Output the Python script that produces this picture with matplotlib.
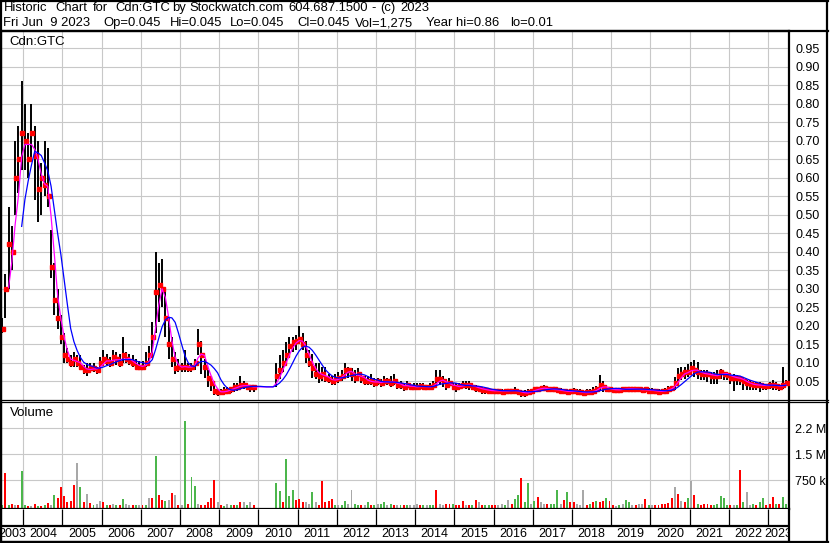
import numpy as np
import pandas as pd
import matplotlib
matplotlib.use("Agg")
import matplotlib.pyplot as plt
from matplotlib.lines import Line2D

plt.rcParams['font.family'] = ['Liberation Sans', 'DejaVu Sans']

nan = np.nan

# monthly bars, Jun 2003 .. Jun 2023
months = pd.period_range('2003-06', '2023-06', freq='M')

high = [
    0.22, 0.34, 0.52, 0.47, 0.70, 0.74, 0.86,                                   # 2003
    0.80, 0.72, 0.80, 0.74, 0.70, 0.64, 0.70, 0.68, 0.46, 0.37, 0.30, 0.23,     # 2004
    0.18, 0.14, 0.12, 0.13, 0.12, 0.12, 0.095, 0.10, 0.10, 0.10, 0.09, 0.115,   # 2005
    0.135, 0.125, 0.115, 0.135, 0.13, 0.125, 0.17, 0.13, 0.125, 0.12, 0.11, 0.105,
    0.105, 0.13, 0.145, 0.21, 0.40, 0.37, 0.38, 0.30, 0.22, 0.17, 0.13, 0.11,   # 2007
    0.10, 0.135, 0.10, 0.10, 0.11, 0.19, 0.16, 0.11, 0.08, 0.06, 0.04, 0.03,    # 2008
    0.03, 0.035, 0.035, 0.035, 0.045, 0.045, 0.065, 0.05, 0.045, 0.04, 0.04, nan,
    nan, nan, nan, nan, nan, 0.10, 0.12, 0.135, 0.155, 0.17, 0.17, 0.175,       # 2010
    0.20, 0.18, 0.16, 0.135, 0.125, 0.10, 0.10, 0.09, 0.09, 0.07, 0.065, 0.07,  # 2011
    0.075, 0.08, 0.10, 0.09, 0.085, 0.08, 0.085, 0.075, 0.065, 0.065, 0.07, 0.06,
    0.06, 0.055, 0.065, 0.06, 0.065, 0.07, 0.055, 0.05, 0.045, 0.05, 0.045, 0.045,
    0.045, 0.045, 0.045, 0.04, 0.045, 0.05, 0.08, 0.08, 0.065, 0.055, 0.06, 0.045,
    0.045, 0.045, 0.05, 0.05, 0.05, 0.045, 0.04, 0.035, 0.03, 0.03, 0.03, 0.03,
    0.03, 0.03, 0.028, 0.03, 0.03, 0.03, 0.035, 0.03, 0.026, 0.026, 0.03, 0.03,
    0.033, 0.035, 0.036, 0.039, 0.035, 0.035, 0.035, 0.033, 0.033, 0.03, 0.03, 0.03,
    0.033, 0.03, 0.03, 0.027, 0.03, 0.03, 0.035, 0.037, 0.066, 0.052, 0.039, 0.035,
    0.033, 0.033, 0.03, 0.035, 0.035, 0.035, 0.033, 0.033, 0.033, 0.03, 0.035, 0.033,
    0.033, 0.03, 0.03, 0.03, 0.033, 0.037, 0.035, 0.062, 0.085, 0.09, 0.09, 0.098,
    0.102, 0.107, 0.102, 0.08, 0.08, 0.08, 0.075, 0.075, 0.08, 0.084, 0.075, 0.075,
    0.07, 0.07, 0.066, 0.062, 0.062, 0.053, 0.053, 0.048, 0.048, 0.048, 0.044, 0.044,
    0.048, 0.053, 0.048, 0.044, 0.09, 0.053,                                     # 2023
]

low = [
    0.18, 0.22, 0.30, 0.35, 0.50, 0.56, 0.62,
    0.62, 0.60, 0.65, 0.54, 0.48, 0.50, 0.55, 0.52, 0.33, 0.23, 0.19, 0.15,
    0.10, 0.10, 0.09, 0.09, 0.09, 0.08, 0.07, 0.065, 0.075, 0.075, 0.07, 0.085,
    0.10, 0.095, 0.09, 0.10, 0.095, 0.09, 0.10, 0.10, 0.095, 0.09, 0.085, 0.085,
    0.085, 0.09, 0.10, 0.12, 0.18, 0.21, 0.25, 0.17, 0.11, 0.09, 0.07, 0.075,
    0.075, 0.075, 0.075, 0.075, 0.08, 0.12, 0.07, 0.06, 0.035, 0.025, 0.012, 0.01,
    0.012, 0.012, 0.018, 0.018, 0.022, 0.025, 0.03, 0.03, 0.028, 0.022, 0.022, nan,
    nan, nan, nan, nan, nan, 0.035, 0.055, 0.075, 0.095, 0.12, 0.13, 0.135,
    0.15, 0.135, 0.10, 0.09, 0.06, 0.055, 0.045, 0.05, 0.048, 0.045, 0.04, 0.04,
    0.045, 0.05, 0.055, 0.06, 0.05, 0.045, 0.05, 0.045, 0.04, 0.04, 0.04, 0.035,
    0.04, 0.035, 0.04, 0.04, 0.035, 0.04, 0.03, 0.03, 0.025, 0.03, 0.026, 0.026,
    0.026, 0.03, 0.026, 0.026, 0.03, 0.03, 0.04, 0.04, 0.035, 0.026, 0.035, 0.026,
    0.022, 0.026, 0.035, 0.03, 0.026, 0.026, 0.022, 0.022, 0.017, 0.017, 0.017, 0.015,
    0.017, 0.015, 0.015, 0.017, 0.017, 0.015, 0.017, 0.012, 0.008, 0.008, 0.012, 0.017,
    0.021, 0.021, 0.026, 0.026, 0.021, 0.021, 0.021, 0.021, 0.018, 0.018, 0.016, 0.018,
    0.016, 0.016, 0.012, 0.012, 0.016, 0.015, 0.016, 0.021, 0.025, 0.021, 0.021, 0.021,
    0.021, 0.021, 0.021, 0.024, 0.024, 0.024, 0.024, 0.021, 0.021, 0.018, 0.021, 0.016,
    0.016, 0.016, 0.015, 0.016, 0.016, 0.021, 0.026, 0.026, 0.044, 0.053, 0.057, 0.062,
    0.066, 0.062, 0.057, 0.053, 0.053, 0.048, 0.044, 0.044, 0.044, 0.057, 0.053, 0.053,
    0.044, 0.024, 0.039, 0.039, 0.026, 0.026, 0.026, 0.026, 0.026, 0.021, 0.026, 0.026,
    0.028, 0.026, 0.026, 0.024, 0.03, 0.039,
]

close = [
    0.19, 0.30, 0.42, 0.40, 0.60, 0.65, 0.72,
    0.70, 0.65, 0.72, 0.66, 0.57, 0.60, 0.58, 0.55, 0.36, 0.27, 0.22, 0.17,
    0.12, 0.11, 0.10, 0.11, 0.10, 0.09, 0.08, 0.08, 0.085, 0.085, 0.08, 0.10,
    0.11, 0.105, 0.10, 0.115, 0.11, 0.10, 0.12, 0.11, 0.105, 0.10, 0.09, 0.09,
    0.09, 0.10, 0.12, 0.17, 0.29, 0.31, 0.30, 0.22, 0.15, 0.11, 0.085, 0.09,
    0.09, 0.09, 0.085, 0.09, 0.10, 0.15, 0.12, 0.09, 0.06, 0.045, 0.025, 0.02,
    0.02, 0.025, 0.025, 0.03, 0.035, 0.035, 0.04, 0.04, 0.035, 0.035, 0.035, 0.035,
    0.035, 0.035, 0.035, 0.035, 0.035, 0.065, 0.08, 0.10, 0.12, 0.145, 0.155, 0.16,
    0.165, 0.15, 0.12, 0.10, 0.085, 0.07, 0.065, 0.07, 0.06, 0.055, 0.05, 0.055,
    0.06, 0.065, 0.08, 0.08, 0.07, 0.06, 0.07, 0.06, 0.05, 0.05, 0.05, 0.045,
    0.05, 0.045, 0.05, 0.05, 0.045, 0.05, 0.04, 0.04, 0.035, 0.04, 0.035, 0.035,
    0.035, 0.037, 0.035, 0.035, 0.035, 0.04, 0.055, 0.055, 0.05, 0.04, 0.045, 0.035,
    0.035, 0.037, 0.04, 0.04, 0.04, 0.035, 0.033, 0.03, 0.027, 0.027, 0.025, 0.023,
    0.025, 0.025, 0.022, 0.025, 0.025, 0.025, 0.025, 0.022, 0.018, 0.018, 0.02, 0.025,
    0.028, 0.03, 0.032, 0.032, 0.028, 0.028, 0.028, 0.026, 0.025, 0.023, 0.022, 0.023,
    0.023, 0.022, 0.02, 0.018, 0.02, 0.022, 0.025, 0.028, 0.04, 0.035, 0.03, 0.028,
    0.027, 0.027, 0.027, 0.03, 0.03, 0.03, 0.03, 0.028, 0.028, 0.026, 0.028, 0.025,
    0.025, 0.024, 0.022, 0.023, 0.025, 0.03, 0.033, 0.045, 0.065, 0.07, 0.075, 0.075,
    0.085, 0.08, 0.075, 0.07, 0.07, 0.07, 0.065, 0.065, 0.065, 0.075, 0.07, 0.068,
    0.06, 0.06, 0.06, 0.055, 0.05, 0.045, 0.042, 0.04, 0.04, 0.04, 0.038, 0.038,
    0.04, 0.04, 0.038, 0.035, 0.04, 0.045,
]

# volume in thousands of shares, one bar per month
volume = [
    30, 970, 40, 77, 25, 25, 1020,
    40, 20, 20, 67, 20, 20, 30, 96, 30, 327, 250, 558,
    310, 135, 163, 615, 1250, 560, 135, 356, 87, 40, 60, 154,
    125, 30, 40, 60, 30, 30, 212, 60, 50, 30, 30, 25,
    25, 30, 230, 230, 1452, 327, 183, 154, 183, 375, 327, 40,
    40, 2470, 60, 846, 587, 60, 40, 40, 135, 250, 750, 135,
    30, 20, 77, 40, 40, 30, 115, 115, 30, 115, 30, 0,
    0, 0, 0, 0, 0, 673, 442, 115, 1365, 300, 462, 180,
    210, 115, 115, 77, 404, 135, 40, 730, 135, 154, 210, 40,
    40, 40, 154, 60, 471, 77, 30, 30, 30, 135, 30, 30,
    77, 77, 135, 40, 60, 30, 40, 30, 30, 40, 40, 40,
    60, 30, 30, 30, 40, 40, 471, 60, 40, 60, 60, 77,
    30, 40, 154, 40, 30, 40, 183, 135, 40, 40, 40, 30,
    30, 30, 60, 30, 173, 60, 212, 327, 808, 135, 663, 77,
    154, 279, 115, 60, 60, 60, 60, 471, 77, 183, 404, 115,
    115, 60, 40, 462, 40, 60, 115, 154, 135, 154, 230, 154,
    30, 20, 30, 60, 183, 135, 40, 30, 60, 60, 212, 30,
    30, 30, 40, 60, 60, 96, 250, 558, 356, 154, 115, 230,
    730, 327, 60, 40, 60, 60, 40, 30, 77, 308, 230, 40,
    30, 30, 40, 1048, 115, 423, 40, 60, 40, 115, 230, 40,
    60, 277, 60, 77, 263, 60,
]

# g = up, r = down, n = unchanged
vol_dir = ("grgrnrg" "grnrgrgrngrr" "rrrrngrnrgnn" "rgrngrgnnrgn" "rgnrgrrgnrnr"
           "ngrggnrrrrrn" "rgngrgrngnrn" "nnnnnggrgggr" "rrnngnrrrrrg" "nggnnggrngrg"
           "nggngrngrgnn" "nrgnggrnnrrg" "rrrnrgrnrggr" "rnngnrggrggn" "grnnrgggnrgr"
           "rnnnrgrgrrgr" "rngnggnrnnrg" "nrrrrrrnrnrg" "nrgrrrrggggg" "rngrgnngrggr"
           "rrgrgg")

years = list(range(2003, 2024))

# header pieces with their left edge in pixels
header1 = [(4, 'Historic'), (55, 'Chart'), (93, 'for'), (115, 'Cdn:GTC'), (172, 'by'),
           (189, 'Stockwatch.com'), (288, '604.687.1500'), (371, '-'), (380, '(c)'),
           (400, '2023')]
header2 = [(3, 'Fri Jun  9 2023'), (103, 'Op=0.045'), (170, 'Hi=0.045'), (230, 'Lo=0.045'),
           (297, 'Cl=0.045'), (355, 'Vol=1,275'), (426, 'Year hi=0.86'), (510, 'lo=0.01')]

df = pd.DataFrame({'high': high, 'low': low, 'close': close,
                   'volume': np.array(volume) / 1000.0, 'dir': list(vol_dir)})
df['t'] = months.year + (months.month - 0.5) / 12.0
df['ma_short'] = df['close'].rolling(3).mean()
df['ma_long'] = df['close'].rolling(7).mean()

W, H = 830, 543
def fx(x):
    return x / W
def fy(y):
    return 1 - y / H

x0, x1 = 1, 789
t_left = 2004 + (x0 - 23.3) / 39.19
t_right = 2004 + (x1 - 23.3) / 39.19

fig = plt.figure(figsize=(W / 100, H / 100), dpi=100)
grid_c = '#C8C8C8'

# ---- price panel
ax = fig.add_axes([fx(x0), fy(400), fx(x1) - fx(x0), fy(31) - fy(400)])
ax.set_xlim(t_left, t_right)
ax.set_ylim(-0.0005, 0.9964)
ax.set_xticks(years[1:])
ax.set_xticklabels([])
ax.set_yticks(np.arange(0.05, 0.951, 0.05))
ax.set_yticklabels(['%.2f' % v for v in np.arange(0.05, 0.951, 0.05)])
ax.yaxis.tick_right()
ax.tick_params(length=0, labelsize=9, pad=5)
ax.grid(True, color=grid_c, lw=0.8)
ax.set_axisbelow(True)
for s in ['top', 'left', 'right']:
    ax.spines[s].set_linewidth(1.6)
ax.spines['bottom'].set_visible(False)

ok = df['high'].notna()
ax.vlines(df.loc[ok, 't'], df.loc[ok, 'low'], df.loc[ok, 'high'], color='black', lw=1.4, zorder=2)
ax.plot(df.loc[ok, 't'] + 0.02, df.loc[ok, 'close'], ls='none', marker='s', ms=2.2,
        color='red', mec='red', zorder=3)
ax.plot(df['t'], df['ma_short'], color='#FF00FF', lw=0.9, zorder=4)
ax.plot(df['t'], df['ma_long'], color='#0000FF', lw=0.9, zorder=5)
ax.text(0.011, 0.97, 'Cdn:GTC', transform=ax.transAxes, fontsize=9.5, va='center', ha='left')

# ---- volume panel
vax = fig.add_axes([fx(x0), fy(508.5), fx(x1) - fx(x0), fy(402) - fy(508.5)])
vmin = -0.063
vax.set_xlim(t_left, t_right)
vax.set_ylim(vmin, 3.009)
vax.set_xticks(years[1:])
vax.set_xticklabels([])
vax.set_yticks([0.75, 1.5, 2.25])
vax.set_yticklabels(['750 k', '1.5 M', '2.2 M'])
vax.yaxis.tick_right()
vax.tick_params(length=0, labelsize=9, pad=4)
vax.grid(True, color=grid_c, lw=0.8)
vax.set_axisbelow(True)
for s in ['left', 'right', 'bottom']:
    vax.spines[s].set_linewidth(1.6)
vax.spines['top'].set_visible(False)
colors = df['dir'].map({'g': '#4CB64C', 'r': '#FF0000', 'n': '#A8A8A8'})
vol_ok = df['volume'] > 0
vax.bar(df.loc[vol_ok, 't'], df.loc[vol_ok, 'volume'] - vmin, bottom=vmin, width=0.05,
        color=colors[vol_ok], zorder=2)
vax.text(0.011, 0.9, 'Volume', transform=vax.transAxes, fontsize=9.5, va='center', ha='left')

# ---- year strip
sax = fig.add_axes([fx(x0), fy(541.5), fx(x1) - fx(x0), fy(508.5) - fy(541.5)])
sax.set_xlim(t_left, t_right)
sax.set_ylim(0, 1)
sax.set_xticks([])
sax.set_yticks([])
for s in ['left', 'right', 'bottom']:
    sax.spines[s].set_linewidth(1.6)
sax.spines['top'].set_visible(False)
mid = (541.5 - 526) / 33.0
sax.axhline(mid, color='black', lw=1.6)
sax.vlines(years[1:], mid, 1, color='black', lw=0.9)
for y in years:
    a = max(y, t_left)
    b = min(y + 1, t_right)
    sax.text((a + b) / 2, mid / 2, str(y), ha='center', va='center', fontsize=9, clip_on=True)

# ---- frame lines
def hline(y, xa, xb, lw=1.6):
    fig.add_artist(Line2D([fx(xa), fx(xb)], [fy(y), fy(y)], color='black', lw=lw))
def vline(x, ya, yb, lw=1.6):
    fig.add_artist(Line2D([fx(x), fx(x)], [fy(ya), fy(yb)], color='black', lw=lw))

hline(1, 0, 828)
hline(31, 0, 828)
hline(400, 0, 828, lw=0.9)
hline(402.2, 0, 828, lw=0.9)
hline(541.5, 0, 828)
vline(827, 0, 543)
vline(1, 0, 543)

for xp, s in header1:
    fig.text(fx(xp), fy(8), s, fontsize=9.4, va='center', ha='left')
for xp, s in header2:
    fig.text(fx(xp), fy(23), s, fontsize=9.4, va='center', ha='left')

fig.savefig('out.png', dpi=100)
